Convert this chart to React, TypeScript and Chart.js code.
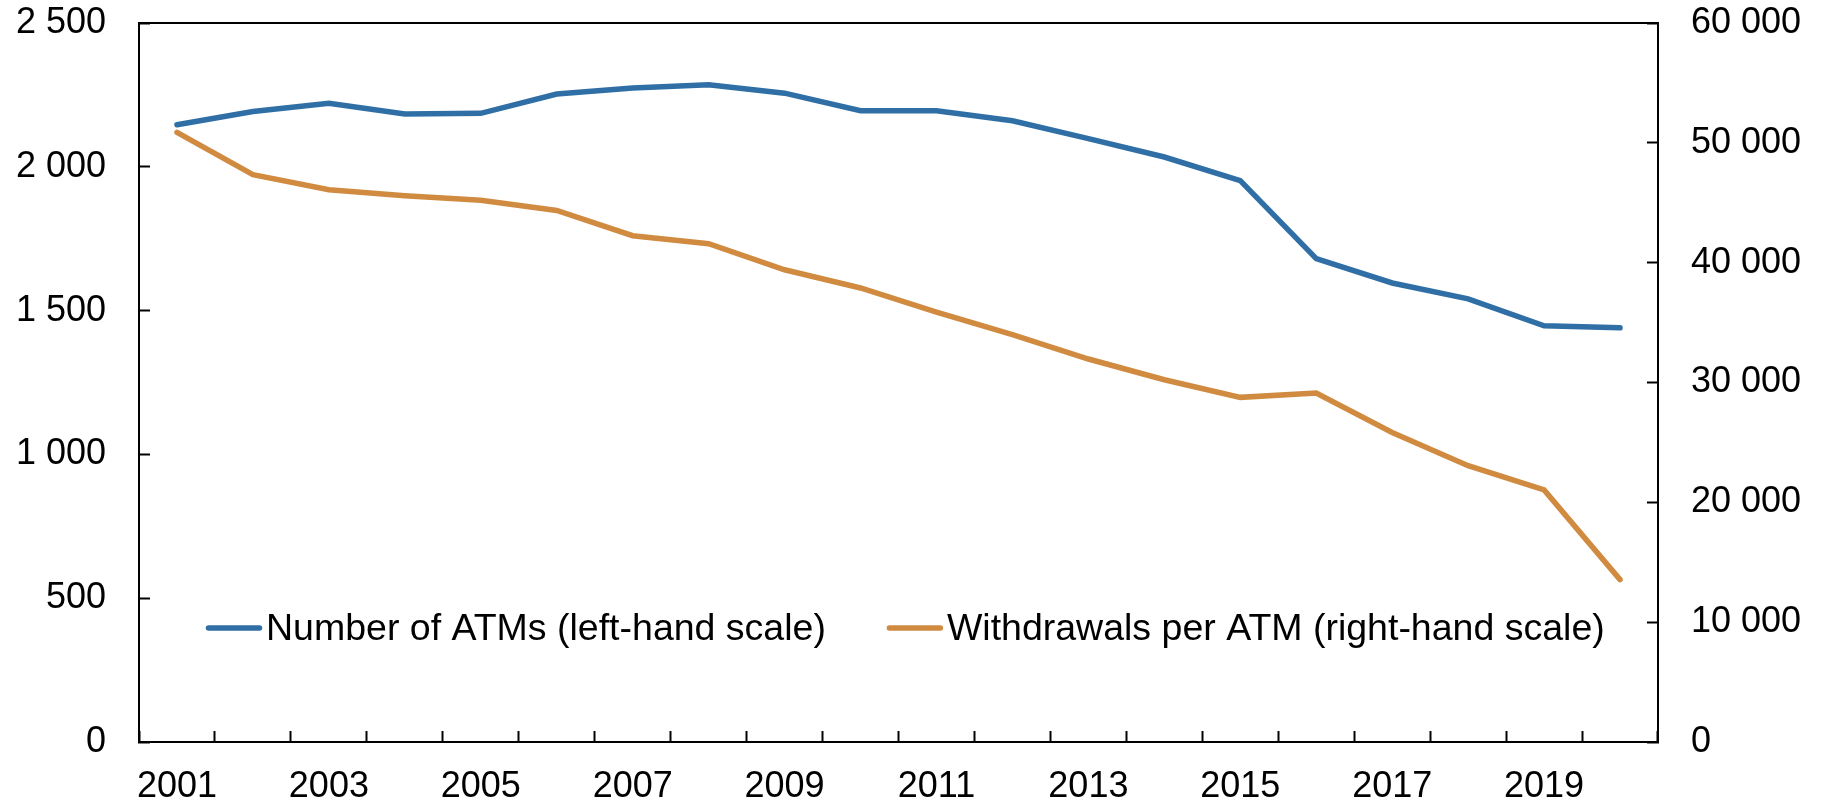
import React, { useEffect, useRef } from 'react';
import { Chart, registerables } from 'chart.js';

Chart.register(...registerables);

const years = [
  '2001', '2002', '2003', '2004', '2005', '2006', '2007', '2008', '2009', '2010',
  '2011', '2012', '2013', '2014', '2015', '2016', '2017', '2018', '2019', '2020',
];

const atmCount = [
  2146, 2192, 2221, 2184, 2186, 2253, 2274, 2285, 2256, 2195,
  2195, 2160, 2098, 2034, 1952, 1681, 1596, 1541, 1447, 1440,
];

const withdrawalsPerAtm = [
  50870, 47340, 46090, 45590, 45200, 44360, 42250, 41580, 39410, 37890,
  35880, 33990, 31960, 30230, 28760, 29120, 25830, 23060, 21040, 13550,
];

const seriesLabels = ['Number of ATMs (left-hand scale)', 'Withdrawals per ATM (right-hand scale)'];
const seriesColors = ['#2F6FA6', '#D18B41'];

const leftMax = 2500;
const leftStep = 500;
const rightMax = 60000;
const rightStep = 10000;

const FONT = "'Liberation Sans', Arial, Helvetica, sans-serif";

const fmt = (v: number) => String(v).replace(/\B(?=(\d{3})+(?!\d))/g, ' ');

const insideLegend = {
  id: 'insideLegend',
  afterDatasetsDraw(chart: any) {
    const ctx = chart.ctx;
    const a = chart.chartArea;
    ctx.save();
    ctx.font = `37.5px ${FONT}`;
    ctx.textBaseline = 'alphabetic';
    ctx.textAlign = 'left';
    let x = a.left + 67;
    const yLine = a.bottom - 114;
    const yText = a.bottom - 102;
    chart.data.datasets.forEach((ds: any) => {
      ctx.strokeStyle = ds.borderColor;
      ctx.lineWidth = 5.5;
      ctx.lineCap = 'round';
      ctx.beginPath();
      ctx.moveTo(x + 2.5, yLine);
      ctx.lineTo(x + 53.5, yLine);
      ctx.stroke();
      x += 60;
      ctx.fillStyle = '#000';
      ctx.fillText(ds.label, x, yText);
      x += ctx.measureText(ds.label).width + 61;
    });
    ctx.restore();
  },
};

const zeroPad = (s: any) => {
  s.paddingTop = 0;
  s.paddingBottom = 0;
  s.paddingLeft = 0;
  s.paddingRight = 0;
};

export default function App() {
  const canvasRef = useRef<HTMLCanvasElement | null>(null);

  useEffect(() => {
    if (!canvasRef.current) return;
    const tickFont = { family: FONT, size: 36 };
    const chart = new Chart(canvasRef.current, {
      type: 'line',
      data: {
        labels: years,
        datasets: [
          {
            label: seriesLabels[0],
            data: atmCount,
            yAxisID: 'y',
            borderColor: seriesColors[0],
            backgroundColor: seriesColors[0],
            borderWidth: 5.5,
            pointRadius: 0,
            borderCapStyle: 'round',
            tension: 0,
          },
          {
            label: seriesLabels[1],
            data: withdrawalsPerAtm,
            yAxisID: 'y1',
            borderColor: seriesColors[1],
            backgroundColor: seriesColors[1],
            borderWidth: 5.5,
            pointRadius: 0,
            borderCapStyle: 'round',
            tension: 0,
          },
        ],
      },
      options: {
        animation: false,
        responsive: true,
        maintainAspectRatio: false,
        layout: { padding: { top: 23, left: 0, right: 0, bottom: 0 } },
        plugins: {
          legend: { display: false },
          tooltip: { enabled: false },
        },
        scales: {
          x: {
            type: 'category',
            position: 'bottom',
            offset: true,
            grid: {
              offset: true,
              drawOnChartArea: false,
              drawTicks: true,
              tickLength: -11,
              tickWidth: 2,
              tickColor: '#000',
            },
            border: { display: true, color: '#000', width: 2 },
            ticks: {
              autoSkip: false,
              maxRotation: 0,
              minRotation: 0,
              padding: 34,
              color: '#000',
              font: tickFont,
              callback: function (this: any, val: any, idx: number) {
                return idx % 2 === 0 ? this.getLabelForValue(val) : '';
              },
            },
            afterFit: (s: any) => {
              s.height = 63;
              zeroPad(s);
            },
          },
          xTop: {
            type: 'category',
            position: 'top',
            offset: true,
            grid: { display: false, drawTicks: false },
            border: { display: true, color: '#000', width: 2 },
            ticks: { display: false },
            afterFit: (s: any) => {
              s.height = 0;
              zeroPad(s);
            },
          },
          y: {
            type: 'linear',
            position: 'left',
            min: 0,
            max: leftMax,
            grid: {
              drawOnChartArea: false,
              drawTicks: true,
              tickLength: -11,
              tickWidth: 2,
              tickColor: '#000',
            },
            border: { display: true, color: '#000', width: 2 },
            ticks: {
              stepSize: leftStep,
              padding: 44,
              color: '#000',
              font: tickFont,
              callback: (v: any) => fmt(Number(v)),
            },
            afterFit: (s: any) => {
              s.width = 139;
              zeroPad(s);
            },
          },
          y1: {
            type: 'linear',
            position: 'right',
            min: 0,
            max: rightMax,
            grid: {
              drawOnChartArea: false,
              drawTicks: true,
              tickLength: -11,
              tickWidth: 2,
              tickColor: '#000',
            },
            border: { display: true, color: '#000', width: 2 },
            ticks: {
              stepSize: rightStep,
              padding: 44,
              color: '#000',
              font: tickFont,
              callback: (v: any) => fmt(Number(v)),
            },
            afterFit: (s: any) => {
              s.width = 167;
              zeroPad(s);
            },
          },
        },
      } as any,
      plugins: [insideLegend],
    });
    return () => chart.destroy();
  }, []);

  return (
    <div
      style={{
        position: 'absolute',
        left: 0,
        top: 0,
        width: 1825,
        height: 805,
        background: '#fff',
      }}
    >
      <canvas ref={canvasRef} />
    </div>
  );
}
